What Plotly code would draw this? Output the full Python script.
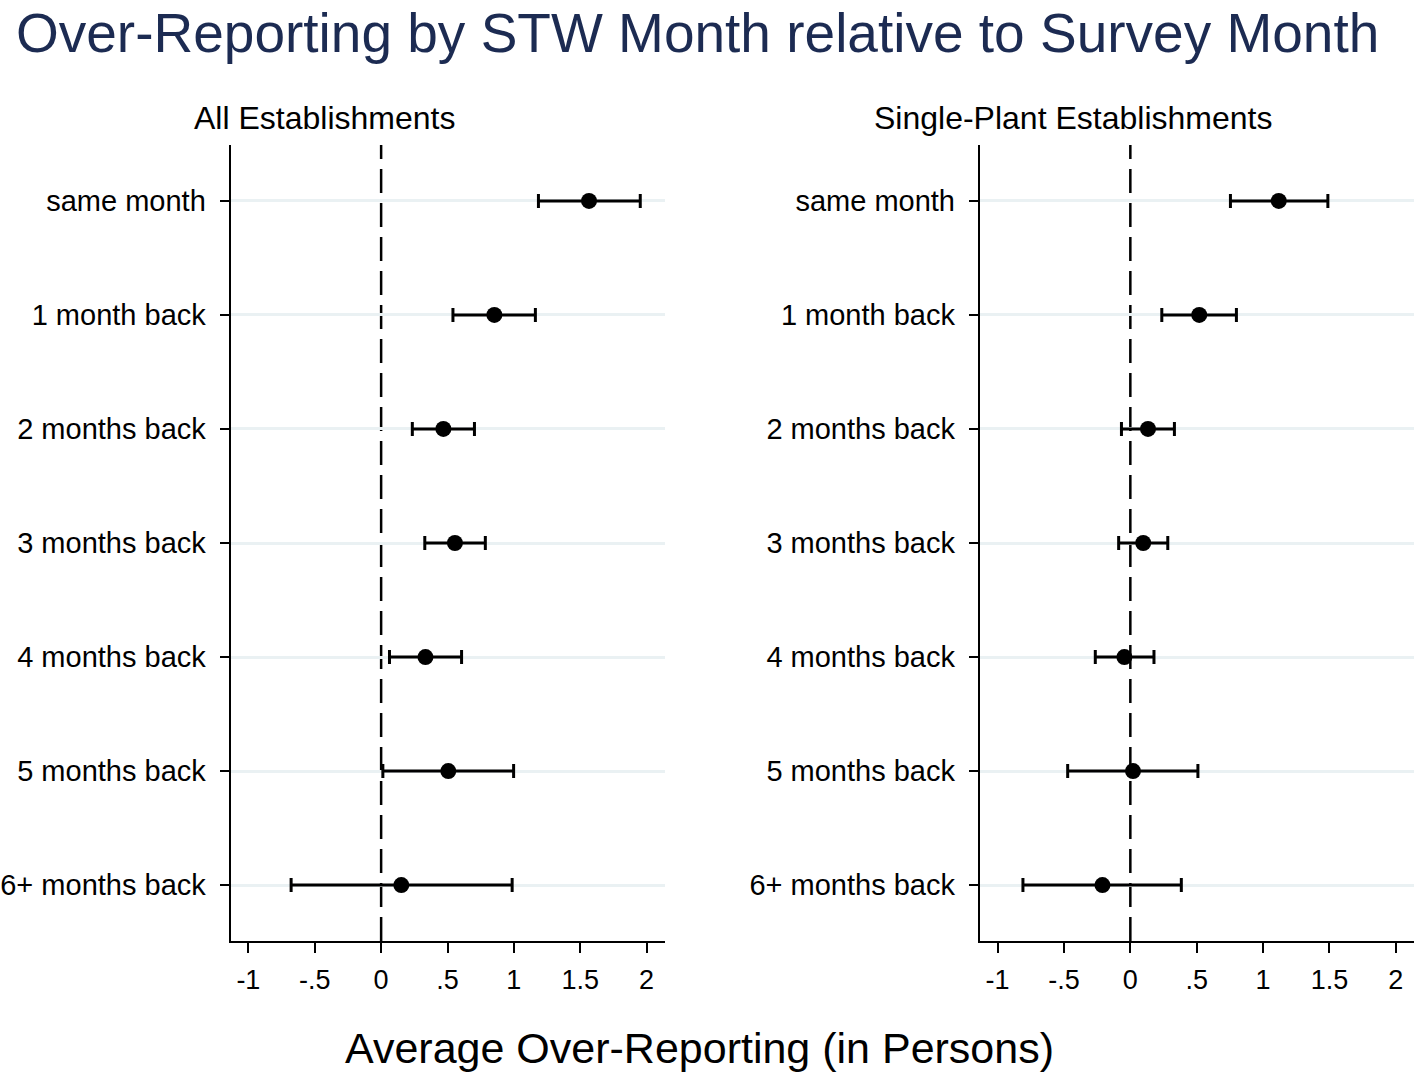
import plotly.graph_objects as go
from plotly.subplots import make_subplots

categories = ["same month", "1 month back", "2 months back", "3 months back",
              "4 months back", "5 months back", "6+ months back"]

all_est = [1.566, 0.853, 0.469, 0.556, 0.334, 0.506, 0.152]
all_lo = [1.185, 0.541, 0.235, 0.329, 0.063, 0.013, -0.678]
all_hi = [1.952, 1.162, 0.703, 0.785, 0.606, 0.998, 0.987]

sp_est = [1.118, 0.519, 0.133, 0.097, -0.045, 0.020, -0.210]
sp_lo = [0.754, 0.237, -0.067, -0.088, -0.264, -0.472, -0.809]
sp_hi = [1.488, 0.799, 0.332, 0.282, 0.178, 0.509, 0.384]

x_tickvals = [-1, -0.5, 0, 0.5, 1, 1.5, 2]
x_ticktext = ["-1", "-.5", "0", ".5", "1", "1.5", "2"]

panel_titles = ["All Establishments", "Single-Plant Establishments"]
main_title = "Over-Reporting by STW Month relative to Survey Month"
x_title = "Average Over-Reporting (in Persons)"

W, H = 1419, 1078
FONT = "Liberation Sans, Arial, sans-serif"

fig = make_subplots(rows=1, cols=2)

panels = [(all_est, all_lo, all_hi), (sp_est, sp_lo, sp_hi)]
for i, (est, lo, hi) in enumerate(panels):
    fig.add_trace(go.Scatter(
        x=est, y=categories, mode="markers",
        marker=dict(color="black", size=16, symbol="circle"),
        error_x=dict(type="data", symmetric=False,
                     array=[h - e for h, e in zip(hi, est)],
                     arrayminus=[e - l for e, l in zip(est, lo)],
                     color="black", thickness=3, width=7),
        showlegend=False, cliponaxis=False,
    ), row=1, col=i + 1)

ybot = (H - 941) / H
ytop = (H - 145) / H
domains = [[223 / W, 660 / W], [977 / W, 1414 / W]]

for i in range(2):
    xa = "xaxis" if i == 0 else "xaxis2"
    ya = "yaxis" if i == 0 else "yaxis2"
    fig.layout[xa].update(
        domain=domains[i], range=[-1.134, 2.137],
        tickvals=x_tickvals, ticktext=x_ticktext,
        ticks="outside", ticklen=10, tickwidth=2, tickcolor="black",
        showline=True, linecolor="black", linewidth=2,
        showgrid=False, zeroline=False,
        tickfont=dict(family=FONT, size=27, color="black"),
        ticklabelstandoff=4,
    )
    fig.layout[ya].update(
        domain=[ybot, ytop],
        categoryorder="array", categoryarray=categories,
        range=[6.49, -0.49],
        ticks="outside", ticklen=9, tickwidth=2, tickcolor="black",
        showline=True, linecolor="black", linewidth=2,
        showgrid=True, gridcolor="#eaf1f3", gridwidth=3,
        zeroline=False,
        tickfont=dict(family=FONT, size=29, color="black"),
        ticklabelstandoff=8,
    )
    xref = "x" if i == 0 else "x2"
    yref = "y domain" if i == 0 else "y2 domain"
    fig.add_shape(type="line", xref=xref, yref=yref, x0=0, x1=0, y0=0, y1=1,
                  line=dict(color="black", width=2.5, dash="24px,10px"),
                  layer="below")

annotations = [
    dict(text=main_title, x=5 / W, y=1, xref="paper", yref="paper",
         xanchor="left", yanchor="top", showarrow=False,
         font=dict(family=FONT, size=55, color="#1c2b52")),
    dict(text=panel_titles[0], x=318 / W, y=1 - 118 / H, xref="paper", yref="paper",
         xanchor="center", yanchor="middle", showarrow=False,
         font=dict(family=FONT, size=32, color="black")),
    dict(text=panel_titles[1], x=1071 / W, y=1 - 118 / H, xref="paper", yref="paper",
         xanchor="center", yanchor="middle", showarrow=False,
         font=dict(family=FONT, size=32, color="black")),
    dict(text=x_title, x=695 / W, y=1 - 1048 / H, xref="paper", yref="paper",
         xanchor="center", yanchor="middle", showarrow=False,
         font=dict(family=FONT, size=43, color="black")),
]

fig.update_layout(
    width=W, height=H,
    margin=dict(l=0, r=0, t=0, b=0),
    paper_bgcolor="white", plot_bgcolor="white",
    annotations=annotations,
    showlegend=False,
)

fig.write_html("out.html", config={"displayModeBar": False},
               post_script="document.body.style.margin='0';document.body.style.overflow='hidden';")
